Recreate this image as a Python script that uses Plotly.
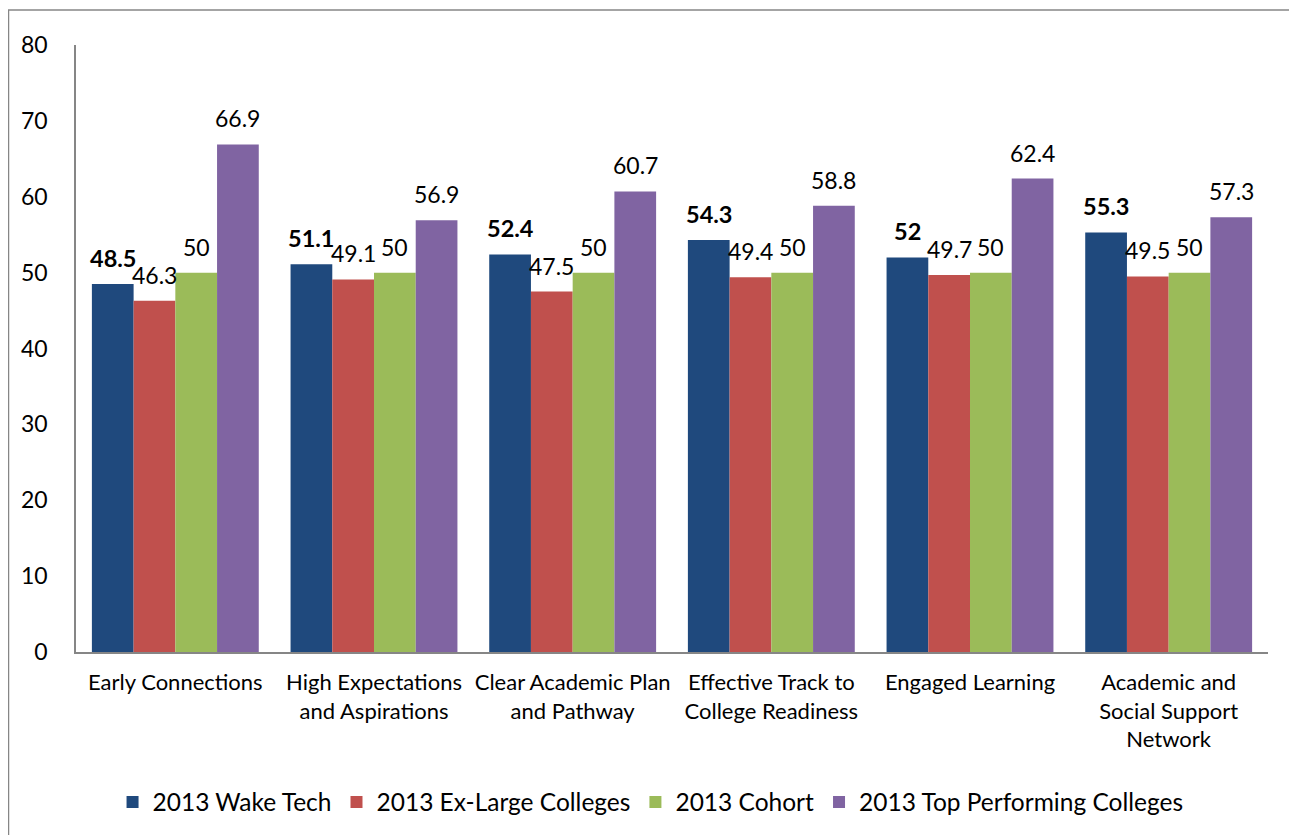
import plotly.graph_objects as go

categories = ["Early Connections", "High Expectations<br>and Aspirations", "Clear Academic Plan<br>and Pathway",
              "Effective Track to<br>College Readiness", "Engaged Learning", "Academic and<br>Social Support<br>Network"]
series_names = ["2013 Wake Tech", "2013 Ex-Large Colleges", "2013 Cohort", "2013 Top Performing Colleges"]
wake_tech = [48.5, 51.1, 52.4, 54.3, 52, 55.3]
ex_large = [46.3, 49.1, 47.5, 49.4, 49.7, 49.5]
cohort = [50, 50, 50, 50, 50, 50]
top_perf = [66.9, 56.9, 60.7, 58.8, 62.4, 57.3]
y_ticks = [0, 10, 20, 30, 40, 50, 60, 70, 80]

colors = ["#1F497D", "#C0504D", "#9BBB59", "#8064A2"]
values = [wake_tech, ex_large, cohort, top_perf]
FONT = "Lato"

# page body has an 8px margin; plot area in figure coords: x 68..1260, y 37..644
PW, PH = 1192, 607
BARGAP = 0.16
cat_w = PW / len(categories)
bar_w = cat_w * (1 - BARGAP) / len(series_names)

fig = go.Figure()
annotations = []
for i, (name, vals) in enumerate(zip(series_names, values)):
    fig.add_trace(go.Bar(
        x=categories, y=vals, name=name,
        marker=dict(color=colors[i], line=dict(width=0)),
    ))
    xshift = (i - (len(series_names) - 1) / 2) * bar_w
    for c, v in zip(categories, vals):
        annotations.append(dict(
            x=c, y=v, xref="x", yref="y", showarrow=False,
            text=f"<b>{v:g}</b>" if i == 0 else f"{v:g}",
            xanchor="center", yanchor="bottom", xshift=xshift, yshift=10,
            font=dict(family=FONT, size=23.5 if i == 0 else 23, color="#000000"),
        ))

fig.update_layout(
    width=1297, height=835,
    barmode="group", bargap=BARGAP, bargroupgap=0,
    plot_bgcolor="white", paper_bgcolor="white",
    margin=dict(l=68, r=37, t=37, b=191, autoexpand=False),
    font=dict(family=FONT, color="#000000"),
    legend=dict(orientation="h", x=0.482, xanchor="center", y=(644 - 794) / PH, yanchor="middle",
                font=dict(family=FONT, size=24.5), traceorder="normal"),
    showlegend=True,
    annotations=annotations,
    shapes=[dict(type="rect", xref="paper", yref="paper",
                 x0=(0.5 - 68) / PW, x1=(1295 - 68) / PW,
                 y0=-0.4, y1=(644 - 2) / PH,
                 line=dict(color="#868686", width=1.5), fillcolor="rgba(0,0,0,0)", layer="below")],
)
fig.update_yaxes(range=[0, 80], tickvals=y_ticks, showgrid=False, showline=True,
                 linecolor="#868686", linewidth=1.5, ticks="", ticklabelstandoff=22,
                 tickfont=dict(family=FONT, size=23, color="#000000"), zeroline=False)
fig.update_xaxes(showline=True, linecolor="#868686", linewidth=1.5, ticks="",
                 tickfont=dict(family=FONT, size=22, color="#000000"), ticklabelstandoff=10)

fig.write_html("out.html")
